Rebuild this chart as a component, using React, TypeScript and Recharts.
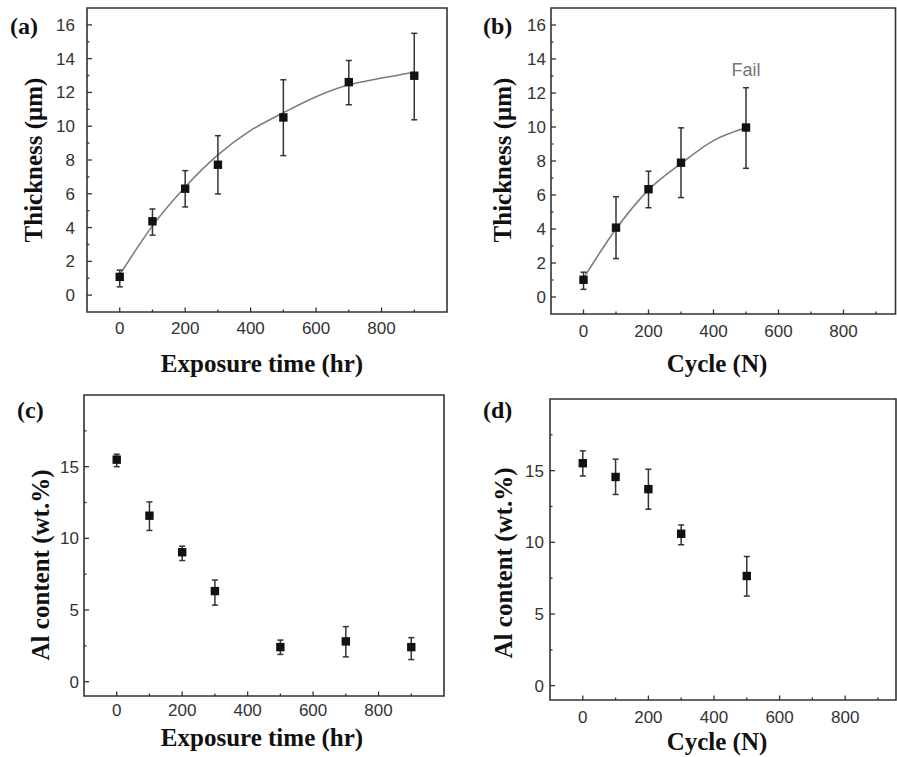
import React from 'react';
import {
  ComposedChart,
  Scatter,
  Line,
  XAxis,
  YAxis,
  ErrorBar,
  ReferenceArea,
  ReferenceDot,
} from 'recharts';

// ---- data ----
const hourSteps = [0, 100, 200, 300, 500, 700, 900];
const thicknessByHour = [1.08, 4.37, 6.3, 7.72, 10.52, 12.61, 12.99];
const thicknessByHourLow = [0.49, 3.55, 5.22, 5.99, 8.26, 11.27, 10.38];
const thicknessByHourHigh = [1.48, 5.1, 7.37, 9.44, 12.75, 13.89, 15.5];

const fitHourSteps = [0, 100, 200, 300, 400, 500, 600, 700, 800, 900];
const fitThicknessByHour = [1.2, 4.1, 6.4, 8.3, 9.75, 10.8, 11.75, 12.45, 12.85, 13.2];

const cycleSteps = [0, 100, 200, 300, 500];
const thicknessByCycle = [1.01, 4.08, 6.34, 7.9, 9.97];
const thicknessByCycleLow = [0.45, 2.26, 5.25, 5.85, 7.57];
const thicknessByCycleHigh = [1.46, 5.9, 7.4, 9.95, 12.31];

const fitCycleSteps = [0, 100, 200, 300, 400, 500];
const fitThicknessByCycle = [1.1, 4.0, 6.3, 7.85, 9.2, 9.95];

const alByHour = [15.49, 11.58, 9.03, 6.32, 2.41, 2.81, 2.41];
const alByHourLow = [15.0, 10.55, 8.45, 5.34, 1.9, 1.73, 1.54];
const alByHourHigh = [15.87, 12.54, 9.45, 7.09, 2.9, 3.84, 3.07];

const alByCycle = [15.52, 14.56, 13.71, 10.6, 7.65];
const alByCycleLow = [14.63, 13.34, 12.31, 9.83, 6.25];
const alByCycleHigh = [16.38, 15.8, 15.1, 11.21, 9.01];

const xMajorTicks = [0, 200, 400, 600, 800];
const xMinorTicks = [100, 300, 500, 700, 900];
const thickMajorTicks = [0, 2, 4, 6, 8, 10, 12, 14, 16];
const thickMinorTicks = [1, 3, 5, 7, 9, 11, 13, 15];
const alMajorTicks = [0, 5, 10, 15];
const alMinorTicks = [2.5, 7.5, 12.5, 17.5];

const SANS = '"Liberation Sans", Arial, sans-serif';
const SERIF = '"Liberation Serif", "Times New Roman", serif';
const AXIS = '#333';

const toRows = (xs: number[], ys: number[], lo?: number[], hi?: number[]) =>
  xs.map((x, i) => ({
    x,
    y: ys[i],
    err: lo && hi ? [ys[i] - lo[i], hi[i] - ys[i]] : undefined,
  }));

const makeXTick = (majors: number[], labelDy: number) => (props: any) => {
  const { x, y, payload } = props;
  const major = majors.includes(payload.value);
  return (
    <g>
      <line x1={x} x2={x} y1={y} y2={y - (major ? 4.5 : 2.5)} stroke={AXIS} strokeWidth={1.3} />
      {major && (
        <text x={x} y={y + labelDy} textAnchor="middle" fontSize={17} fill={AXIS} fontFamily={SANS}>
          {payload.value}
        </text>
      )}
    </g>
  );
};

const makeYTick = (majors: number[], gap: number) => (props: any) => {
  const { x, y, payload } = props;
  const major = majors.includes(payload.value);
  return (
    <g>
      <line x1={x} x2={x + (major ? 5 : 2.5)} y1={y} y2={y} stroke={AXIS} strokeWidth={1.3} />
      {major && (
        <text x={x - gap} y={y} dy={6} textAnchor="end" fontSize={17} fill={AXIS} fontFamily={SANS}>
          {payload.value}
        </text>
      )}
    </g>
  );
};

const Square = (props: any) => {
  const { cx, cy } = props;
  if (cx == null || cy == null) return null;
  return <rect x={cx - 4.2} y={cy - 4.2} width={8.4} height={8.4} fill="#111" />;
};

interface PanelProps {
  left: number;
  top: number;
  width: number;
  height: number;
  marginTop: number;
  marginRight: number;
  yAxisWidth: number;
  xAxisHeight: number;
  xMax: number;
  yDomain: [number, number];
  yMajor: number[];
  yMinor: number[];
  yGap: number;
  xDy: number;
  points: any[];
  fit?: any[];
  children?: React.ReactNode;
}

const Panel = (p: PanelProps) => (
  <div style={{ position: 'absolute', left: p.left, top: p.top }}>
    <ComposedChart
      width={p.width}
      height={p.height}
      margin={{ top: p.marginTop, right: p.marginRight, bottom: 0, left: 0 }}
    >
      <XAxis
        dataKey="x"
        type="number"
        domain={[-100, p.xMax]}
        ticks={[...xMajorTicks, ...xMinorTicks].filter((t) => t < p.xMax).sort((a, b) => a - b)}
        interval={0}
        height={p.xAxisHeight}
        axisLine={false}
        tickLine={false}
        tickSize={0}
        tickMargin={0}
        tick={makeXTick(xMajorTicks, p.xDy)}
        allowDataOverflow
      />
      <YAxis
        dataKey="y"
        type="number"
        domain={p.yDomain}
        ticks={[...p.yMajor, ...p.yMinor].sort((a, b) => a - b)}
        interval={0}
        width={p.yAxisWidth}
        axisLine={false}
        tickLine={false}
        tickSize={0}
        tickMargin={0}
        tick={makeYTick(p.yMajor, p.yGap)}
        allowDataOverflow
      />
      <ReferenceArea
        x1={-100}
        x2={p.xMax}
        y1={p.yDomain[0]}
        y2={p.yDomain[1]}
        fill="none"
        stroke={AXIS}
        strokeWidth={1.6}
        fillOpacity={0}
      />
      {p.fit && (
        <Line
          data={p.fit}
          dataKey="y"
          type="monotone"
          stroke="#7d7d7d"
          strokeWidth={1.6}
          dot={false}
          activeDot={false}
          isAnimationActive={false}
        />
      )}
      <Scatter data={p.points} dataKey="y" shape={<Square />} isAnimationActive={false}>
        <ErrorBar dataKey="err" direction="y" width={3} stroke="#333" strokeWidth={1.5} />
      </Scatter>
      {p.children}
    </ComposedChart>
  </div>
);

export default function App() {
  const aPoints = toRows(hourSteps, thicknessByHour, thicknessByHourLow, thicknessByHourHigh);
  const aFit = toRows(fitHourSteps, fitThicknessByHour);
  const bPoints = toRows(cycleSteps, thicknessByCycle, thicknessByCycleLow, thicknessByCycleHigh);
  const bFit = toRows(fitCycleSteps, fitThicknessByCycle);
  const cPoints = toRows(hourSteps, alByHour, alByHourLow, alByHourHigh);
  const dPoints = toRows(cycleSteps, alByCycle, alByCycleLow, alByCycleHigh);

  const title = { fontFamily: SERIF, fontWeight: 700, fill: '#111' } as const;

  return (
    <div
      style={{
        position: 'absolute',
        left: 0,
        top: 0,
        width: 897,
        height: 757,
        overflow: 'hidden',
        background: '#fff',
      }}
    >
      <Panel
        left={0}
        top={0}
        width={450}
        height={380}
        marginTop={8}
        marginRight={3}
        yAxisWidth={87}
        xAxisHeight={68}
        xMax={1000}
        yDomain={[-1, 17]}
        yMajor={thickMajorTicks}
        yMinor={thickMinorTicks}
        yGap={12}
        xDy={22}
        points={aPoints}
        fit={aFit}
      />
      <Panel
        left={450}
        top={0}
        width={447}
        height={380}
        marginTop={8}
        marginRight={1.5}
        yAxisWidth={101}
        xAxisHeight={66}
        xMax={960}
        yDomain={[-1, 17]}
        yMajor={thickMajorTicks}
        yMinor={thickMinorTicks}
        yGap={5}
        xDy={23}
        points={bPoints}
        fit={bFit}
      >
        <ReferenceDot
          x={500}
          y={13.4}
          r={0}
          fill="none"
          stroke="none"
          label={{ value: 'Fail', position: 'center', fill: '#777', fontSize: 18, fontFamily: SANS }}
        />
      </Panel>
      <Panel
        left={0}
        top={380}
        width={450}
        height={377}
        marginTop={15}
        marginRight={6}
        yAxisWidth={84}
        xAxisHeight={61}
        xMax={1000}
        yDomain={[-1, 20]}
        yMajor={alMajorTicks}
        yMinor={alMinorTicks}
        yGap={5}
        xDy={20}
        points={cPoints}
      />
      <Panel
        left={450}
        top={380}
        width={447}
        height={377}
        marginTop={19}
        marginRight={1}
        yAxisWidth={100}
        xAxisHeight={57}
        xMax={955}
        yDomain={[-1, 20]}
        yMajor={alMajorTicks}
        yMinor={alMinorTicks}
        yGap={6}
        xDy={23}
        points={dPoints}
      />

      <svg
        width={897}
        height={757}
        style={{ position: 'absolute', left: 0, top: 0, pointerEvents: 'none' }}
      >
        <text x={10} y={34} fontSize={24} {...title}>(a)</text>
        <text x={483} y={34} fontSize={24} {...title}>(b)</text>
        <text x={17} y={418} fontSize={24} {...title}>(c)</text>
        <text x={483} y={418} fontSize={24} {...title}>(d)</text>

        <text x={262} y={372} fontSize={25} textAnchor="middle" {...title}>Exposure time (hr)</text>
        <text x={717} y={372} fontSize={25} textAnchor="middle" {...title}>Cycle (N)</text>
        <text x={262} y={746} fontSize={25} textAnchor="middle" {...title}>Exposure time (hr)</text>
        <text x={717} y={750} fontSize={25} textAnchor="middle" {...title}>Cycle (N)</text>

        <text transform="translate(33,160) rotate(-90)" dy="0.35em" fontSize={25} textAnchor="middle" {...title}>
          Thickness (μm)
        </text>
        <text transform="translate(502,160) rotate(-90)" dy="0.35em" fontSize={25} textAnchor="middle" {...title}>
          Thickness (μm)
        </text>
        <text transform="translate(40,565) rotate(-90)" dy="0.35em" fontSize={25} textAnchor="middle" {...title}>
          Al content (wt.%)
        </text>
        <text transform="translate(503,563) rotate(-90)" dy="0.35em" fontSize={25} textAnchor="middle" {...title}>
          Al content (wt.%)
        </text>
      </svg>
    </div>
  );
}
